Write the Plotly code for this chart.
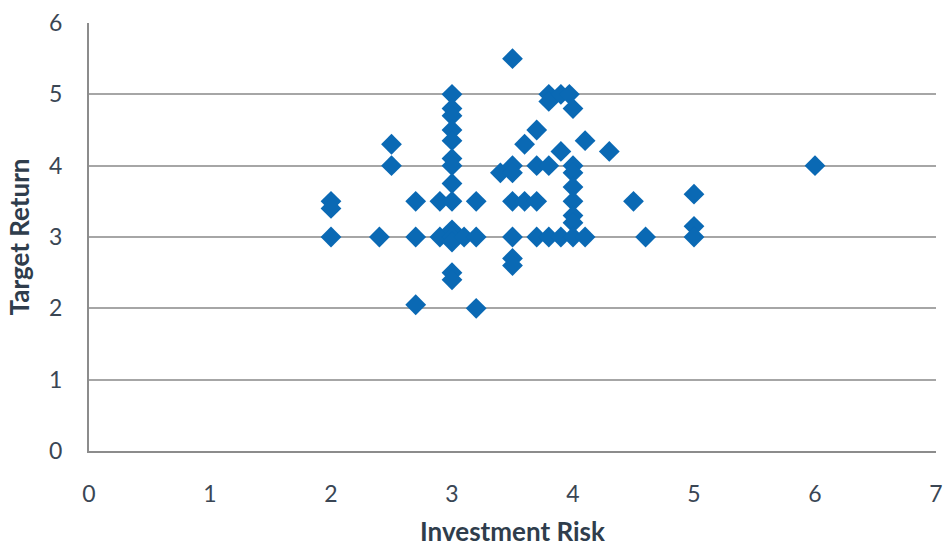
import plotly.graph_objects as go

investment_risk = [
    2, 2, 2,
    2.4,
    2.5, 2.5,
    2.7, 2.7, 2.7,
    2.9, 2.9,
    3, 3, 3, 3, 3, 3, 3, 3, 3, 3, 3, 3, 3, 3,
    3.1,
    3.2, 3.2, 3.2,
    3.4,
    3.5, 3.5, 3.5, 3.5, 3.5, 3.5, 3.5,
    3.6, 3.6,
    3.7, 3.7, 3.7, 3.7,
    3.8, 3.8, 3.8, 3.8,
    3.9, 3.9, 3.9,
    3.97,
    4, 4, 4, 4, 4, 4, 4, 4,
    4.1, 4.1,
    4.3,
    4.5,
    4.6,
    5, 5, 5,
    6,
]
target_return = [
    3.5, 3.4, 3,
    3,
    4.3, 4,
    3.5, 3, 2.05,
    3.5, 3,
    5, 4.8, 4.7, 4.5, 4.35, 4.1, 4, 3.75, 3.5, 3.1, 3, 2.93, 2.5, 2.4,
    3,
    3.5, 3, 2,
    3.9,
    5.5, 4, 3.9, 3.5, 3, 2.7, 2.6,
    4.3, 3.5,
    4.5, 4, 3.5, 3,
    5, 4.9, 4, 3,
    5, 4.2, 3,
    5,
    4.8, 4, 3.9, 3.7, 3.5, 3.3, 3.2, 3,
    4.35, 3,
    4.2,
    3.5,
    3,
    3.6, 3.15, 3,
    4,
]

x_ticks = [0, 1, 2, 3, 4, 5, 6, 7]
y_ticks = [0, 1, 2, 3, 4, 5, 6]

tick_color = "#3a4654"
title_color = "#2f3d4c"
font_family = "Lato"

fig = go.Figure()
fig.add_trace(go.Scatter(
    x=investment_risk,
    y=target_return,
    mode="markers",
    marker=dict(symbol="diamond", size=16, color="#0a69b4", line=dict(width=0)),
    showlegend=False,
))

fig.update_layout(
    width=943,
    height=547,
    margin=dict(l=89, r=7, t=23, b=96, autoexpand=False),
    paper_bgcolor="white",
    plot_bgcolor="white",
    font=dict(family=font_family, color=tick_color),
    xaxis=dict(
        range=[0, 7],
        tickvals=x_ticks,
        automargin=False,
        showgrid=False,
        zeroline=False,
        showline=True,
        linecolor="#8c8c8c",
        linewidth=2,
        ticks="",
        tickfont=dict(size=23, color=tick_color, family=font_family),
        ticklabelstandoff=21,
        title=dict(text="<b>Investment Risk</b>",
                   font=dict(size=26, color=title_color, family=font_family),
                   standoff=17),
    ),
    yaxis=dict(
        range=[0, 6],
        tickvals=y_ticks,
        automargin=False,
        showgrid=True,
        gridcolor="#a6a6a6",
        gridwidth=1.5,
        zeroline=False,
        showline=True,
        linecolor="#8c8c8c",
        linewidth=2,
        ticks="",
        tickfont=dict(size=23, color=tick_color, family=font_family),
        ticklabelstandoff=20,
        title=dict(text="<b>Target Return</b>",
                   font=dict(size=26, color=title_color, family=font_family),
                   standoff=12),
    ),
)

fig.write_html("out.html")
